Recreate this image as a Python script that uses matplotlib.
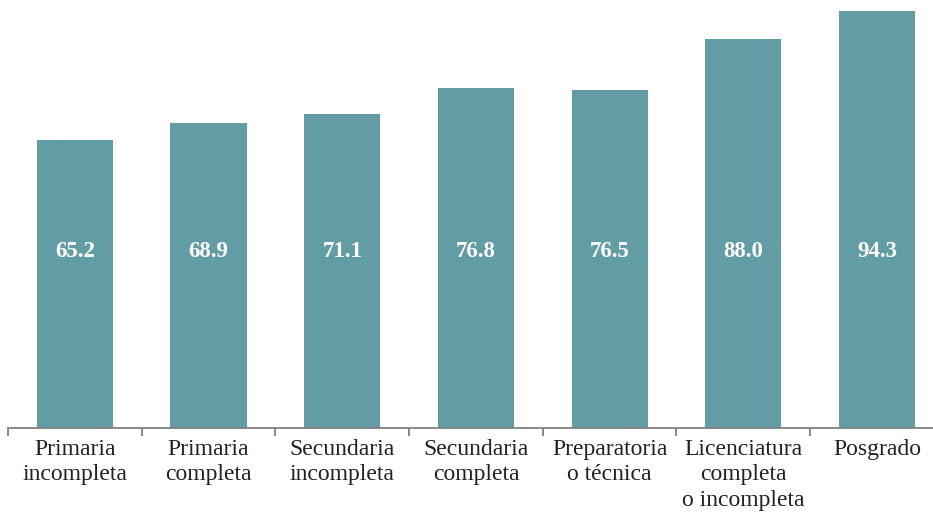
import matplotlib
matplotlib.use("Agg")
import matplotlib.pyplot as plt
from matplotlib.ticker import FixedLocator, NullFormatter

categories = ["Primaria\nincompleta", "Primaria\ncompleta", "Secundaria\nincompleta",
              "Secundaria\ncompleta", "Preparatoria\no técnica",
              "Licenciatura\ncompleta\no incompleta", "Posgrado"]
values = [65.2, 68.9, 71.1, 76.8, 76.5, 88.0, 94.3]

bar_color = "#629ca4"
plt.rcParams['font.family'] = ['Liberation Serif', 'DejaVu Serif']

fig = plt.figure(figsize=(9.33, 5.13), dpi=100)
W, H = 933, 513
left_px, base_px = 8, 428
cat_w = 133.7
ax = fig.add_axes([left_px / W, (H - base_px) / H, 7 * cat_w / W, base_px / H])

x = list(range(len(values)))
ax.bar(x, values, width=0.57, color=bar_color, zorder=2)
for xi, v in zip(x, values):
    ax.text(xi, 40, f"{v:.1f}", ha="center", va="center", color="white",
            fontsize=16.5, fontweight="bold")

ax.set_xlim(-0.5, len(values) - 0.5)
ax.set_ylim(0, base_px / 4.422)
for s in ["top", "right", "left"]:
    ax.spines[s].set_visible(False)
ax.spines["bottom"].set_color("#808080")
ax.spines["bottom"].set_linewidth(1.3)
ax.set_yticks([])
ax.set_xticks(x)
ax.set_xticklabels(categories, fontsize=17, color="#222222", linespacing=1.27)
ax.tick_params(axis="x", which="major", length=0, pad=8)
ax.xaxis.set_minor_locator(FixedLocator([i - 0.5 for i in range(len(values) + 1)]))
ax.xaxis.set_minor_formatter(NullFormatter())
ax.tick_params(axis="x", which="minor", length=6, width=1.3, color="#808080")

fig.savefig("out.png", dpi=100)
